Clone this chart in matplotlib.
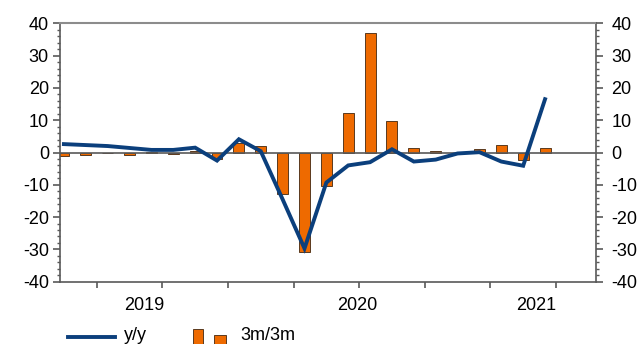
import pandas as pd
import matplotlib
matplotlib.use("Agg")
import matplotlib.pyplot as plt
from matplotlib.lines import Line2D
from matplotlib.patches import Rectangle
from matplotlib.ticker import MultipleLocator, FixedLocator

plt.rcParams["font.family"] = ["Liberation Sans", "DejaVu Sans"]
plt.rcParams["axes.unicode_minus"] = False

# monthly data, May 2019 - Mar 2021 (%)
months = pd.period_range("2019-05", "2021-03", freq="M")
yoy = [2.6, 2.3, 2.0, 1.4, 0.8, 0.8, 1.5, -2.5, 4.1, 0.4, -14.5, -29.7,
       -9.3, -4.0, -3.0, 1.0, -2.8, -2.2, -0.3, 0.1, -2.8, -4.1, 16.5]
m3m3 = [-1.1, -0.8, -0.3, -0.9, 0.1, -0.5, 0.5, -2.0, 2.9, 1.9, -13.0, -30.8,
        -10.3, 12.3, 37.0, 9.8, 1.5, 0.6, -0.2, 1.2, 2.4, -2.2, 1.5]
years = ["2019", "2020", "2021"]

NAVY = "#0B3F7C"
ORANGE = "#EE6A00"
EDGE = "#5A3A1E"
AXIS = "#595959"
FS = 13

x = list(range(len(months)))

fig = plt.figure(figsize=(6.4, 3.44), dpi=100)
ax = fig.add_axes([60 / 640, 1 - 281.7 / 344, 536 / 640, (281.7 - 23.3) / 344])

ax.bar(x, m3m3, width=0.5, color=ORANGE, edgecolor=EDGE, linewidth=0.7, zorder=2)
ax.axhline(0, color=AXIS, lw=1.2, zorder=3)
ax.plot(x, yoy, color=NAVY, lw=2.8, solid_joinstyle="miter", zorder=4)

ax.set_ylim(-40, 40)
ax.set_xlim(-0.18, 24.33)

# quarter ticks between months, year names centred on each year
quarter_edges = [i + 1.5 for i in range(0, 22, 3)]
ax.xaxis.set_major_locator(FixedLocator(quarter_edges))
ax.xaxis.set_major_formatter(plt.NullFormatter())
ax.xaxis.set_minor_locator(FixedLocator([3.65, 13.4, 21.6]))
ax.xaxis.set_minor_formatter(plt.FixedFormatter(years))
ax.tick_params(axis="x", which="major", direction="out", length=4, width=1.2, color=AXIS)
ax.tick_params(axis="x", which="minor", length=0, pad=11, labelsize=FS)

y_major = list(range(-40, 41, 10))
y_minor = list(range(-40, 41, 2))

ax.yaxis.set_major_locator(FixedLocator(y_major))
ax.yaxis.set_minor_locator(FixedLocator(y_minor))
ax.tick_params(axis="y", which="major", direction="out", length=5, width=1.2,
               color=AXIS, labelsize=FS, pad=3)
ax.tick_params(axis="y", which="minor", direction="out", length=2.5, width=1.0, color=AXIS)

right = ax.twinx()
right.set_ylim(ax.get_ylim())
right.yaxis.set_major_locator(FixedLocator(y_major))
right.yaxis.set_minor_locator(FixedLocator(y_minor))
right.tick_params(axis="y", which="major", direction="out", length=5, width=1.2,
                  color=AXIS, labelsize=FS, pad=6)
right.tick_params(axis="y", which="minor", direction="out", length=2.5, width=1.0, color=AXIS)
for s in right.spines.values():
    s.set_visible(False)

for side in ["left", "right", "bottom"]:
    ax.spines[side].set_color(AXIS)
    ax.spines[side].set_linewidth(1.2)
ax.spines["top"].set_color("#8C8C8C")
ax.spines["top"].set_linewidth(1.5)

# legend drawn along the bottom edge
def fx(px):
    return px / 640

def fy(py):
    return 1 - py / 344

fig.add_artist(Line2D([fx(68), fx(115)], [fy(337.3), fy(337.3)], color=NAVY, lw=2.8,
                      transform=fig.transFigure))
fig.text(fx(124), fy(340), "y/y", fontsize=FS, va="baseline", ha="left")
fig.add_artist(Rectangle((fx(192.7), fy(346)), fx(10.6), fy(329.3) - fy(346),
                         facecolor=ORANGE, edgecolor=EDGE, lw=0.7, transform=fig.transFigure))
fig.add_artist(Rectangle((fx(214.3), fy(346)), fx(11.4), fy(335) - fy(346),
                         facecolor=ORANGE, edgecolor=EDGE, lw=0.7, transform=fig.transFigure))
fig.text(fx(240), fy(340), "3m/3m", fontsize=FS, va="baseline", ha="left")

fig.savefig("out.png", dpi=100)
